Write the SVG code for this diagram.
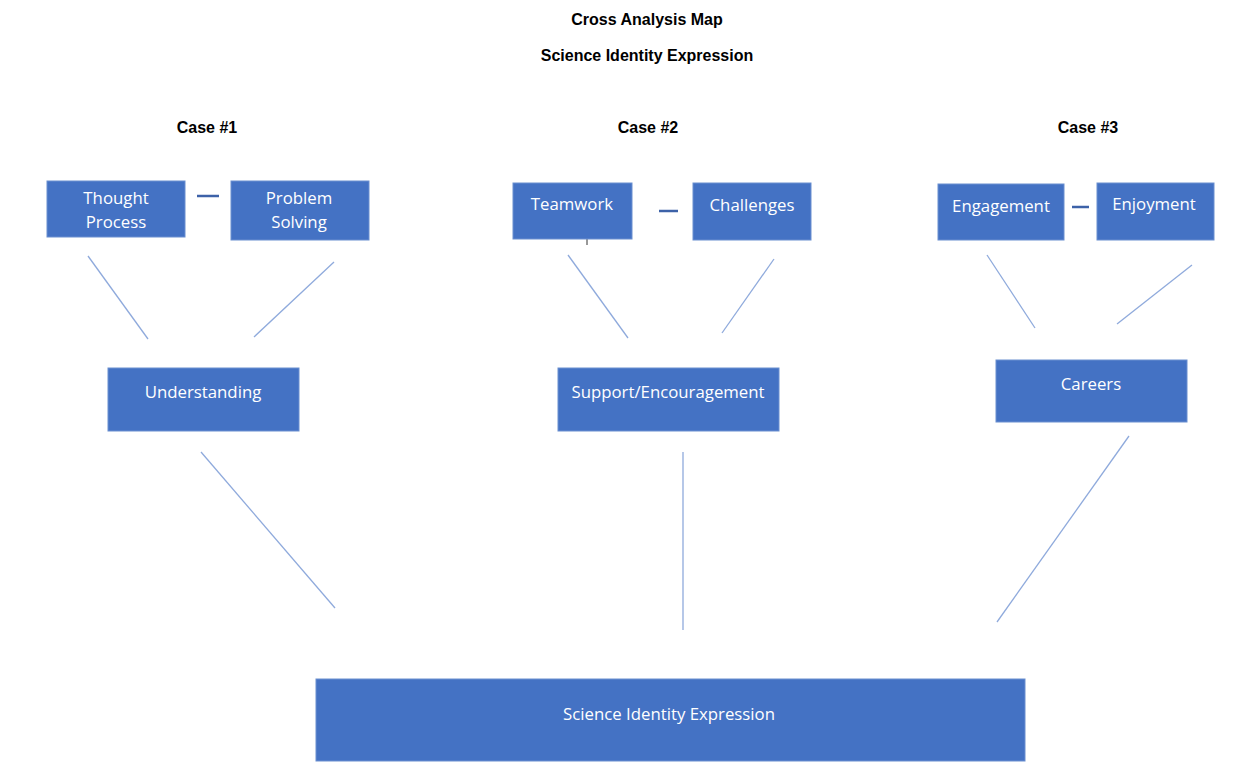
<svg xmlns="http://www.w3.org/2000/svg" width="1254" height="763" viewBox="0 0 1254 763">
  <style>
    .box { fill: #4472c4; stroke: #6a8fd0; stroke-width: 1; }
    .lbl { fill: #ffffff; font-family: "Open Sans", "Liberation Sans", sans-serif; font-size: 16.8px; text-anchor: middle; }
    .ttl { fill: #000000; font-family: "Liberation Sans", sans-serif; font-size: 16px; font-weight: bold; text-anchor: middle; }
    .link { stroke: #8faadc; stroke-width: 1.3; fill: none; }
    .dash { stroke: #3d62a8; stroke-width: 2.5; }
  </style>
  <rect width="1254" height="763" fill="#ffffff"/>

  <g id="titles">
    <text class="ttl" x="647" y="25">Cross Analysis Map</text>
    <text class="ttl" x="647" y="61">Science Identity Expression</text>
    <text class="ttl" x="207" y="133">Case #1</text>
    <text class="ttl" x="648" y="133">Case #2</text>
    <text class="ttl" x="1088" y="133">Case #3</text>
  </g>

  <g id="connectors">
    <line class="dash" x1="197" y1="196" x2="219" y2="196"/>
    <line class="dash" x1="659" y1="211" x2="678" y2="211"/>
    <line class="dash" x1="1072" y1="207" x2="1089" y2="207"/>
    <line x1="587" y1="239" x2="587" y2="245" stroke="#333333" stroke-width="1"/>
    <line class="link" x1="88" y1="256" x2="148" y2="339"/>
    <line class="link" x1="334" y1="262" x2="254" y2="337"/>
    <line class="link" x1="568" y1="255" x2="628" y2="338"/>
    <line class="link" x1="774" y1="259" x2="722" y2="333"/>
    <line class="link" x1="987" y1="255" x2="1035" y2="328"/>
    <line class="link" x1="1192" y1="265" x2="1117" y2="324"/>
    <line class="link" x1="201" y1="452" x2="335" y2="608"/>
    <line class="link" x1="683" y1="452" x2="683" y2="630"/>
    <line class="link" x1="1129" y1="436" x2="997" y2="622"/>
  </g>

  <g id="thought-process">
    <rect class="box" x="47" y="181" width="138" height="56"/>
    <text class="lbl" x="116" y="204">Thought</text>
    <text class="lbl" x="116" y="228">Process</text>
  </g>
  <g id="problem-solving">
    <rect class="box" x="231" y="181" width="138" height="59"/>
    <text class="lbl" x="299" y="204">Problem</text>
    <text class="lbl" x="299" y="228">Solving</text>
  </g>
  <g id="teamwork">
    <rect class="box" x="513" y="183" width="119" height="56"/>
    <text class="lbl" x="572" y="210">Teamwork</text>
  </g>
  <g id="challenges">
    <rect class="box" x="693" y="183" width="118" height="57"/>
    <text class="lbl" x="752" y="211">Challenges</text>
  </g>
  <g id="engagement">
    <rect class="box" x="938" y="184" width="126" height="56"/>
    <text class="lbl" x="1001" y="212">Engagement</text>
  </g>
  <g id="enjoyment">
    <rect class="box" x="1097" y="183" width="117" height="57"/>
    <text class="lbl" x="1154" y="210">Enjoyment</text>
  </g>
  <g id="understanding">
    <rect class="box" x="108" y="368" width="191" height="63"/>
    <text class="lbl" x="203" y="398">Understanding</text>
  </g>
  <g id="support-encouragement">
    <rect class="box" x="558" y="368" width="221" height="63"/>
    <text class="lbl" x="668" y="398">Support/Encouragement</text>
  </g>
  <g id="careers">
    <rect class="box" x="996" y="360" width="191" height="62"/>
    <text class="lbl" x="1091" y="390">Careers</text>
  </g>
  <g id="science-identity-expression">
    <rect class="box" x="316" y="679" width="709" height="82"/>
    <text class="lbl" x="669" y="720">Science Identity Expression</text>
  </g>
</svg>
